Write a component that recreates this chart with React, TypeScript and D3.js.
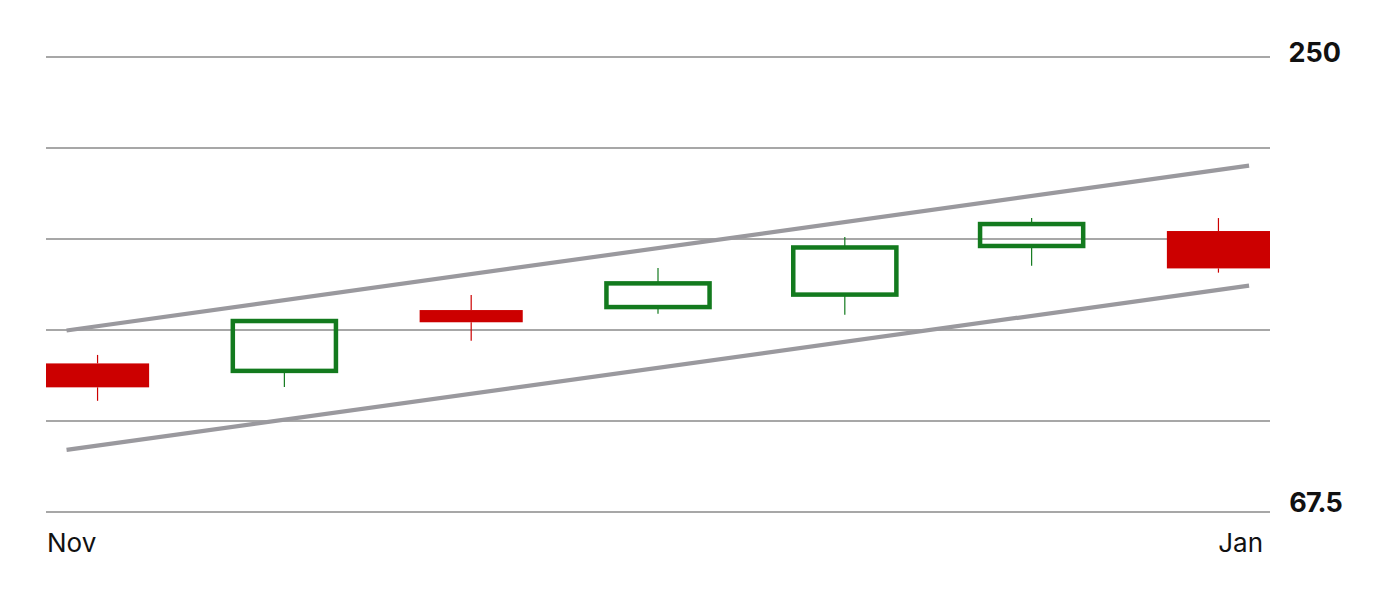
import React from "react";
import * as d3 from "d3";

const months = ["Nov", "", "", "", "", "", "Jan"];
const openVals = [127.1, 124.1, 148.5, 149.7, 154.7, 174.2, 180.2];
const closeVals = [117.5, 144.1, 143.6, 159.2, 173.6, 183.0, 165.2];
const highVals = [130.5, 144.1, 154.5, 165.4, 177.8, 185.4, 185.4];
const lowVals = [112.1, 117.6, 136.2, 147.0, 146.6, 166.3, 163.5];
const yTicks = [250, 213.5, 177, 140.5, 104, 67.5];
const yLabels = ["250", "67.5"];
const trendX = [-0.166, 6.164];
const upperTrend = [140.3, 206.4];
const lowerTrend = [92.4, 158.3];

const W = 1376;
const H = 592;
const left = 46;
const right = 1270;
const top = 57;
const bottom = 512;
const RED = "#cc0000";
const GREEN = "#137a1e";
const GRID = "#8a8a8a";
const TREND = "#9a999e";
const FONT = "Inter, 'Liberation Sans', Arial, sans-serif";

export default function App() {
  const idx = d3.range(months.length);
  const x = d3
    .scaleBand<number>()
    .domain(idx)
    .range([left, right])
    .paddingInner(0.448)
    .paddingOuter(0);
  const bw = x.bandwidth();
  const step = x.step();
  const xi = d3
    .scaleLinear()
    .domain([0, 1])
    .range([(x(0) as number) + bw / 2, (x(0) as number) + bw / 2 + step]);
  const y = d3.scaleLinear().domain([67.5, 250]).range([bottom, top]);

  const line = d3
    .line<[number, number]>()
    .x((d) => xi(d[0]))
    .y((d) => y(d[1]));

  return (
    <svg
      width={W}
      height={H}
      style={{ position: "absolute", left: 0, top: 0, display: "block" }}
    >
      <rect width={W} height={H} fill="#fff" />
      {yTicks.map((t) => (
        <line
          key={t}
          x1={left}
          x2={right}
          y1={y(t)}
          y2={y(t)}
          stroke={GRID}
          strokeWidth={1.4}
        />
      ))}
      {[upperTrend, lowerTrend].map((tr, k) => (
        <path
          key={k}
          d={line(trendX.map((tx, i) => [tx, tr[i]] as [number, number])) || ""}
          stroke={TREND}
          strokeWidth={4.2}
          fill="none"
        />
      ))}
      {idx.map((i) => {
        const o = openVals[i];
        const c = closeVals[i];
        const up = c >= o;
        const col = up ? GREEN : RED;
        const cx = (x(i) as number) + bw / 2;
        const yTop = y(Math.max(o, c));
        const yBot = y(Math.min(o, c));
        return (
          <g key={i}>
            <line
              x1={cx}
              x2={cx}
              y1={y(highVals[i])}
              y2={yTop}
              stroke={col}
              strokeWidth={1.2}
            />
            <line
              x1={cx}
              x2={cx}
              y1={yBot}
              y2={y(lowVals[i])}
              stroke={col}
              strokeWidth={1.2}
            />
            {up ? (
              <rect
                x={x(i) as number}
                y={yTop}
                width={bw}
                height={yBot - yTop}
                fill="none"
                stroke={col}
                strokeWidth={4.5}
              />
            ) : (
              <rect
                x={x(i) as number}
                y={yTop}
                width={bw}
                height={yBot - yTop}
                fill={col}
              />
            )}
          </g>
        );
      })}
      <text
        x={left + 1}
        y={551.5}
        fontFamily={FONT}
        fontSize={26}
        fill="#111"
      >
        {months[0]}
      </text>
      <text
        x={right - 7}
        y={551.5}
        fontFamily={FONT}
        fontSize={26}
        fill="#111"
        textAnchor="end"
      >
        {months[months.length - 1]}
      </text>
      <text
        x={1341}
        y={y(250) + 5}
        fontFamily={FONT}
        fontSize={27}
        fontWeight={700}
        fill="#111"
        textAnchor="end"
      >
        {yLabels[0]}
      </text>
      <text
        x={1342}
        y={y(67.5)}
        fontFamily={FONT}
        fontSize={27}
        fontWeight={700}
        fill="#111"
        textAnchor="end"
        letterSpacing={-0.8}
      >
        {yLabels[1]}
      </text>
    </svg>
  );
}
